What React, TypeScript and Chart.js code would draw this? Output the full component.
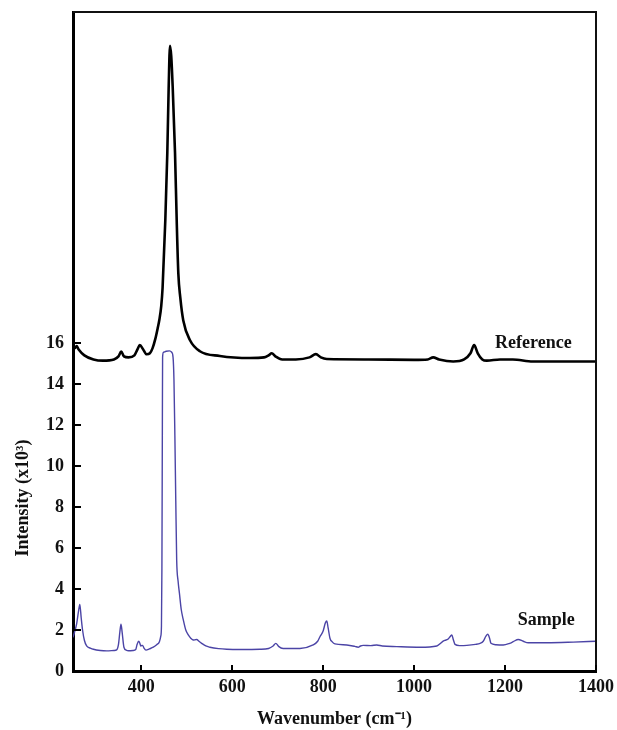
import React, { useEffect, useRef } from 'react';
import { Chart, registerables } from 'chart.js';

Chart.register(...registerables);

const X_TICKS = [400, 600, 800, 1000, 1200, 1400];
const Y_TICKS = [0, 2, 4, 6, 8, 10, 12, 14, 16];

const REF_X = [250, 254, 258, 262, 275, 295, 316, 340, 350, 356, 362, 372, 385, 392, 397, 404, 412, 419, 425, 431, 436, 440, 444, 447, 453, 457.4, 460.4, 463.3, 466, 469.2, 474.3, 478, 481.6, 486, 492.5, 507, 529, 573, 639, 670, 680, 687, 695, 710, 740, 770, 784, 795, 808, 900, 1000, 1030, 1042, 1055, 1086, 1110, 1124, 1132, 1140, 1150, 1160, 1189, 1217, 1261, 1400];
const REF_Y = [16.0, 15.75, 15.85, 15.7, 15.4, 15.2, 15.14, 15.2, 15.35, 15.58, 15.35, 15.3, 15.4, 15.7, 15.9, 15.7, 15.45, 15.5, 15.75, 16.2, 16.7, 17.15, 17.8, 18.7, 22.0, 25.3, 28.5, 30.5, 30.0, 28.5, 25.3, 22.0, 19.4, 18.2, 17.1, 16.15, 15.6, 15.37, 15.27, 15.3, 15.4, 15.5, 15.35, 15.2, 15.2, 15.3, 15.46, 15.3, 15.22, 15.2, 15.18, 15.2, 15.3, 15.2, 15.1, 15.2, 15.5, 15.9, 15.5, 15.2, 15.14, 15.2, 15.2, 15.1, 15.1];

const SAMPLE_X = [250, 258, 262, 265, 268, 271, 275, 280, 288, 295, 310, 324, 340, 346, 350, 353, 355.5, 358, 362, 367, 372, 382, 388, 391, 394.5, 397, 399, 401, 403, 406, 410.5, 418, 426.6, 434, 440, 443, 444.5, 445.5, 446.5, 447, 449, 455, 462, 467, 470, 472, 474, 476, 478, 481, 484, 488, 492.6, 498, 503.5, 509, 514.5, 518, 522, 527, 533, 542, 551, 570, 588, 620, 661, 680, 690, 696, 702, 712, 749, 778, 788, 793, 800, 805, 808, 811, 815, 820, 826, 852, 870, 877, 882, 888, 905, 918, 930, 962, 1013, 1050, 1058, 1064, 1075, 1080, 1083, 1086, 1090, 1100, 1116, 1135, 1145, 1152, 1158, 1162, 1166, 1169, 1180, 1196, 1210, 1218, 1229, 1240, 1251, 1292, 1350, 1400];
const SAMPLE_Y = [1.64, 2.3, 2.9, 3.25, 2.6, 2.0, 1.5, 1.22, 1.12, 1.06, 1.0, 0.98, 1.0, 1.03, 1.3, 1.9, 2.28, 1.9, 1.16, 1.02, 0.99, 1.0, 1.05, 1.3, 1.45, 1.35, 1.22, 1.25, 1.25, 1.12, 1.02, 1.08, 1.16, 1.28, 1.43, 1.7, 2.2, 5.0, 12.0, 15.3, 15.55, 15.6, 15.62, 15.55, 15.3, 14.2, 11.5, 8.3, 5.4, 4.4, 3.8, 3.0, 2.49, 2.0, 1.76, 1.6, 1.51, 1.52, 1.54, 1.45, 1.35, 1.22, 1.16, 1.09, 1.06, 1.05, 1.06, 1.1, 1.22, 1.35, 1.2, 1.1, 1.1, 1.27, 1.45, 1.67, 1.95, 2.35, 2.44, 2.1, 1.6, 1.42, 1.32, 1.27, 1.2, 1.16, 1.22, 1.25, 1.24, 1.27, 1.22, 1.19, 1.16, 1.22, 1.35, 1.46, 1.56, 1.7, 1.76, 1.55, 1.3, 1.24, 1.25, 1.3, 1.35, 1.45, 1.7, 1.79, 1.6, 1.35, 1.28, 1.27, 1.35, 1.43, 1.54, 1.45, 1.38, 1.38, 1.41, 1.45];

const SERIES_NAMES = ['Reference', 'Sample'];
const LABEL_X = [1178, 1228];
const LABEL_Y = [16.0, 2.45];
const Y_TITLE = 'Intensity (x10\u00B3)';
const X_TITLE = 'Wavenumber (cm\u207B\u00B9)';

const FONT = "'Liberation Serif', 'Times New Roman', serif";

const overlayPlugin = {
  id: 'overlay',
  afterDraw(chart: any) {
    const { ctx, chartArea, scales } = chart;
    const { left, right, top, bottom } = chartArea;
    const x = scales.x;
    const y = scales.y;
    ctx.save();
    ctx.strokeStyle = '#111';
    ctx.lineWidth = 2;
    ctx.beginPath();
    ctx.moveTo(left, top);
    ctx.lineTo(right, top);
    ctx.lineTo(right, bottom);
    ctx.stroke();
    ctx.lineWidth = 2;
    ctx.strokeStyle = '#000';
    ctx.beginPath();
    Y_TICKS.forEach((v) => {
      const py = Math.round(y.getPixelForValue(v));
      ctx.moveTo(left, py);
      ctx.lineTo(left + 8, py);
    });
    X_TICKS.forEach((v) => {
      const px = Math.round(x.getPixelForValue(v));
      ctx.moveTo(px, bottom);
      ctx.lineTo(px, bottom - 6);
    });
    ctx.stroke();
    ctx.fillStyle = '#111';
    ctx.font = `bold 18px ${FONT}`;
    ctx.textAlign = 'left';
    ctx.textBaseline = 'middle';
    SERIES_NAMES.forEach((name, i) => {
      ctx.fillText(name, x.getPixelForValue(LABEL_X[i]), y.getPixelForValue(LABEL_Y[i]));
    });
    // y axis title, centred on the labelled tick range
    const mid = (Y_TICKS[0] + Y_TICKS[Y_TICKS.length - 1]) / 2;
    const cy = y.getPixelForValue(mid) - 9;
    ctx.translate(23, cy);
    ctx.rotate(-Math.PI / 2);
    ctx.textAlign = 'center';
    ctx.fillText(Y_TITLE, 0, 0);
    ctx.restore();
  },
};

const zeroPad = (s: any) => {
  s.paddingLeft = 0;
  s.paddingRight = 0;
  s.paddingTop = 0;
  s.paddingBottom = 0;
};

export default function App() {
  const ref = useRef<HTMLCanvasElement>(null);
  useEffect(() => {
    if (!ref.current) return;
    const chart = new Chart(ref.current, {
      type: 'line',
      data: {
        datasets: [
          {
            label: SERIES_NAMES[0],
            data: REF_X.map((v, i) => ({ x: v, y: REF_Y[i] })),
            borderColor: '#000',
            borderWidth: 2.6,
            pointRadius: 0,
            cubicInterpolationMode: 'monotone',
            fill: false,
          },
          {
            label: SERIES_NAMES[1],
            data: SAMPLE_X.map((v, i) => ({ x: v, y: SAMPLE_Y[i] })),
            borderColor: '#4b44a6',
            borderWidth: 1.4,
            pointRadius: 0,
            cubicInterpolationMode: 'monotone',
            fill: false,
          },
        ],
      },
      options: {
        responsive: false,
        animation: false,
        layout: { padding: { top: 12, right: 21, left: 0, bottom: 0 } },
        plugins: { legend: { display: false }, tooltip: { enabled: false } },
        scales: {
          x: {
            type: 'linear',
            min: 250,
            max: 1400,
            afterBuildTicks: (s: any) => {
              s.ticks = X_TICKS.map((v) => ({ value: v }));
            },
            afterFit: (s: any) => {
              s.height = 59;
              zeroPad(s);
            },
            grid: { display: false, drawTicks: false },
            border: { display: true, color: '#000', width: 3 },
            ticks: {
              color: '#111',
              padding: 6,
              maxRotation: 0,
              autoSkip: false,
              callback: (v: any) => String(v),
              font: { family: FONT, size: 18, weight: 'bold' },
            },
            title: {
              display: true,
              text: X_TITLE,
              color: '#111',
              padding: { top: 0, bottom: 0 },
              font: { family: FONT, size: 18, weight: 'bold' },
            },
          },
          y: {
            type: 'linear',
            min: 0,
            max: 32.15,
            afterBuildTicks: (s: any) => {
              s.ticks = Y_TICKS.map((v) => ({ value: v }));
            },
            afterFit: (s: any) => {
              s.width = 73;
              zeroPad(s);
            },
            grid: { display: false, drawTicks: false },
            border: { display: true, color: '#000', width: 3 },
            ticks: {
              color: '#111',
              padding: 9,
              autoSkip: false,
              callback: (v: any) => String(v),
              font: { family: FONT, size: 18, weight: 'bold' },
            },
            title: { display: false },
          },
        },
      },
      plugins: [overlayPlugin],
    } as any);
    return () => chart.destroy();
  }, []);
  return (
    <div style={{ position: 'absolute', left: 0, top: 0, width: 617, height: 730 }}>
      <canvas ref={ref} width={617} height={730} />
    </div>
  );
}
